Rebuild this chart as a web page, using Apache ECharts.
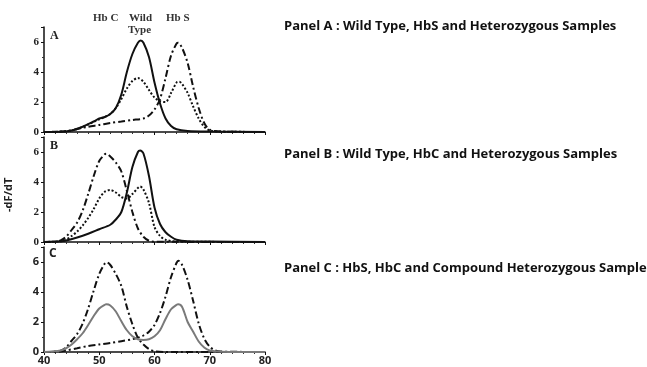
<!DOCTYPE html>
<html>
<head>
<meta charset="utf-8">
<script src="https://cdn.jsdelivr.net/npm/echarts@6/dist/echarts.min.js"></script>
<style>
  html, body { margin: 0; padding: 0; background: #fff; }
  #chart { width: 647px; height: 367px; }
</style>
</head>
<body>
<div id="chart"></div>
<script>
// x axis ticks (temperature)
const xTicks = [40, 50, 60, 70, 80]
const yTicks = [0, 2, 4, 6]

// Panel A: wild type, HbS, heterozygous (AS)
const aWild = [[40,0],[43,0.02],[45,0.1],[47,0.35],[49,0.7],[50,0.9],[51,1.0],[52,1.2],[53,1.6],[54,2.5],[55,4.0],[56,5.2],[57,5.95],[57.5,6.1],[58,5.95],[59,5.0],[60,3.3],[61,1.9],[62,0.9],[63,0.4],[64,0.18],[66,0.07],[70,0.03],[80,0]]
const aHet = [[40,0],[44,0.05],[46,0.2],[48,0.5],[50,0.85],[51,1.0],[52,1.2],[53,1.6],[54,2.2],[55,2.9],[56,3.4],[57,3.6],[58,3.35],[59,2.8],[60,2.3],[61,2.05],[62,2.0],[63,2.6],[64,3.3],[64.5,3.35],[65,3.2],[66,2.6],[67,1.7],[68,0.9],[69,0.35],[70,0.1],[72,0.03],[80,0]]
const aHbS = [[40,0],[44,0.05],[46,0.2],[48,0.35],[50,0.47],[52,0.6],[54,0.7],[56,0.8],[58,0.9],[59,1.1],[60,1.5],[61,2.2],[62,3.6],[63,5.1],[64,5.9],[64.3,5.95],[65,5.6],[66,4.6],[67,3.0],[68,1.6],[69,0.6],[70,0.15],[72,0.03],[80,0]]

// Panel B: wild type, HbC, heterozygous (AC)
const bHbC = [[40,0],[42,0.02],[43,0.1],[44,0.35],[45,0.8],[46,1.3],[47,2.1],[48,3.2],[49,4.4],[50,5.4],[51,5.85],[51.3,5.88],[52,5.7],[53,5.3],[54,4.7],[55,3.4],[56,2.0],[57,0.9],[58,0.35],[59,0.08],[60,0.02],[80,0]]
const bWild = [[40,0],[43,0.05],[44,0.1],[46,0.3],[48,0.55],[50,0.85],[52,1.15],[53,1.5],[54,2.0],[55,3.3],[56,5.0],[57,6.0],[57.4,6.1],[58,5.9],[59,4.4],[60,2.3],[61,1.2],[62,0.65],[63,0.35],[64,0.15],[66,0.05],[70,0.03],[80,0]]
const bHet = [[40,0],[43,0.05],[44,0.15],[45,0.4],[46,0.7],[47,1.1],[48,1.6],[49,2.2],[50,2.9],[51,3.35],[52,3.47],[53,3.3],[54,3.0],[55,2.9],[56,3.2],[57,3.6],[57.4,3.7],[58,3.5],[59,2.6],[60,1.0],[61,0.4],[62,0.15],[64,0.03],[80,0]]

// Panel C: HbS, HbC, compound heterozygous (SC)
const cHbC = [[40,0],[42,0.02],[43,0.08],[44,0.3],[45,0.75],[46,1.2],[47,1.9],[48,2.9],[49,4.1],[50,5.2],[51,5.9],[51.3,5.98],[52,5.8],[53,5.2],[54,4.4],[55,3.0],[56,1.85],[57,0.95],[58,0.5],[59,0.2],[60,0.05],[62,0],[80,0]]
const cHbS = [[40,0],[43,0.03],[44,0.1],[46,0.25],[48,0.4],[50,0.5],[52,0.6],[54,0.72],[56,0.85],[57.4,1.0],[58,1.1],[59,1.35],[60,1.8],[61,2.6],[62,3.7],[63,5.0],[64,5.95],[64.3,6.09],[65,5.8],[66,4.8],[67,3.4],[68,1.9],[69,0.9],[70,0.35],[71,0.1],[72,0.03],[80,0]]
const cCompound = [[40,0],[43,0.1],[44,0.25],[45,0.5],[46,0.85],[47,1.25],[48,1.8],[49,2.4],[50,2.9],[51,3.15],[51.3,3.18],[52,3.1],[53,2.7],[54,2.05],[55,1.45],[56,1.05],[57,0.85],[58,0.8],[59,0.85],[60,1.05],[61,1.45],[62,2.2],[63,2.85],[64,3.15],[64.3,3.18],[65,3.0],[66,2.0],[67,1.35],[68,0.7],[69,0.3],[70,0.1],[72,0.02],[80,0]]

const panelTitles = [
  'Panel A : Wild Type, HbS and Heterozygous Samples',
  'Panel B : Wild Type, HbC and Heterozygous Samples',
  'Panel C : HbS, HbC and Compound Heterozygous Samples'
]

const serif = '"Liberation Serif", "DejaVu Serif", serif'
const sans = '"Open Sans", "Liberation Sans", sans-serif'

const gridTops = [27, 137, 247]
const DASHDOT = [7, 3, 2, 3]

const chart = echarts.init(document.getElementById('chart'))

const xAxisFor = (i) => ({
  type: 'value',
  gridIndex: i,
  min: xTicks[0],
  max: xTicks[xTicks.length - 1],
  interval: 10,
  axisLine: { lineStyle: { color: '#111', width: 1.5 } },
  axisTick: { show: true, length: 3, lineStyle: { color: '#111' } },
  minorTick: { show: true, splitNumber: 5, length: 2, lineStyle: { color: '#333' } },
  splitLine: { show: false },
  axisLabel: {
    show: i === 2,
    color: '#222',
    fontFamily: sans,
    fontWeight: 'bold',
    fontSize: 11,
    margin: 3
  }
})

const yAxisFor = (i) => ({
  type: 'value',
  gridIndex: i,
  min: 0,
  max: 7,
  interval: 2,
  axisLine: { show: true, lineStyle: { color: '#111', width: 1.5 } },
  axisTick: { show: true, length: 3, lineStyle: { color: '#111' } },
  minorTick: { show: true, splitNumber: 2, length: 2, lineStyle: { color: '#333' } },
  splitLine: { show: false },
  axisLabel: {
    color: '#222',
    fontFamily: i === 2 ? sans : serif,
    fontWeight: 'bold',
    fontSize: 11,
    margin: 5,
    formatter: (v) => (yTicks.includes(v) ? String(v) : '')
  }
})

const line = (data, i, type, color) => ({
  type: 'line',
  xAxisIndex: i,
  yAxisIndex: i,
  data: data,
  smooth: 0.3,
  showSymbol: false,
  silent: true,
  lineStyle: { color: color || '#111', width: 2, type: type }
})

const option = {
  animation: false,
  backgroundColor: '#fff',
  grid: gridTops.map(t => ({ left: 44, width: 221, top: t, height: 105 })),
  xAxis: [0, 1, 2].map(xAxisFor),
  yAxis: [0, 1, 2].map(yAxisFor),
  series: [
    line(aWild, 0, 'solid'),
    line(aHet, 0, 'dotted'),
    line(aHbS, 0, DASHDOT),
    line(bHbC, 1, DASHDOT),
    line(bWild, 1, 'solid'),
    line(bHet, 1, 'dotted'),
    line(cHbC, 2, DASHDOT),
    line(cHbS, 2, DASHDOT),
    line(cCompound, 2, 'solid', '#7a7a7a')
  ],
  graphic: [
    // column labels above panel A
    { type: 'text', left: 93, top: 13, style: { text: 'Hb C', font: 'bold 11px ' + serif, fill: '#333' } },
    { type: 'text', left: 129, top: 13, style: { text: 'Wild', font: 'bold 11px ' + serif, fill: '#333' } },
    { type: 'text', left: 128, top: 25, style: { text: 'Type', font: 'bold 11px ' + serif, fill: '#333' } },
    { type: 'text', left: 166, top: 13, style: { text: 'Hb S', font: 'bold 11px ' + serif, fill: '#333' } },
    // panel letters
    { type: 'text', left: 50, top: 30, style: { text: 'A', font: 'bold 12px ' + serif, fill: '#222' } },
    { type: 'text', left: 50, top: 140, style: { text: 'B', font: 'bold 12px ' + serif, fill: '#222' } },
    { type: 'text', left: 49, top: 248, style: { text: 'C', font: 'bold 12px ' + sans, fill: '#222' } },
    // y axis title
    {
      type: 'text', x: 3, y: 212, rotation: Math.PI / 2,
      style: { text: '-dF/dT', font: 'bold 11px ' + sans, fill: '#222' }
    },
    // panel descriptions
    { type: 'text', left: 284, top: 20, style: { text: panelTitles[0], font: 'bold 13px ' + sans, fill: '#111' } },
    { type: 'text', left: 284, top: 148, style: { text: panelTitles[1], font: 'bold 13px ' + sans, fill: '#111' } },
    { type: 'text', left: 284, top: 262, style: { text: panelTitles[2], font: 'bold 13px ' + sans, fill: '#111' } }
  ]
}

chart.setOption(option)
</script>
</body>
</html>
